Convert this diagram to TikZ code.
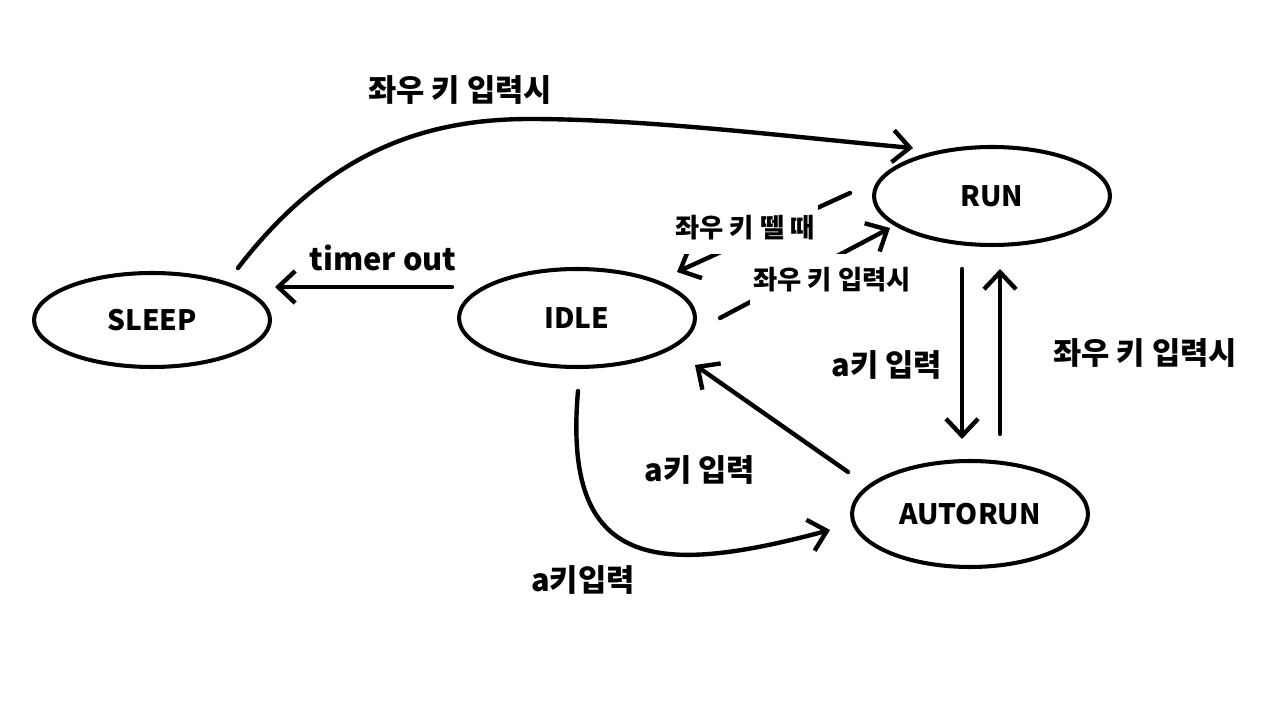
\documentclass[tikz,border=0pt]{standalone}
\usepackage{fontspec}
\setmainfont{Noto Sans CJK KR}
\usetikzlibrary{arrows.meta, positioning, shapes.geometric, calc}

\begin{document}
\begin{tikzpicture}[
    x=0.02cm, y=0.02cm,
    state/.style={ellipse, draw, line width=2.3pt, minimum width=4.72cm, minimum height=1.96cm,
        inner sep=0pt, font=\fontsize{16}{18}\selectfont\bfseries},
    arr/.style={line width=2.5pt, line cap=round,
        -{Straight Barb[length=3.4mm, width=6.4mm]}},
    lbl/.style={font=\fontsize{17.5}{20}\selectfont\bfseries},
    small/.style={font=\fontsize{15}{17}\selectfont\bfseries, fill=white,
        inner xsep=2pt, inner ysep=8pt},
]
    \useasboundingbox (0,0) rectangle (1280,720);

    % States
    \node[state, minimum height=1.88cm] (sleep) at (152,400) {SLEEP};
    \node[state] (idle) at (577,402) {IDLE};
    \node[state] (run) at (992,524) {RUN};
    \node[state, minimum height=2.12cm] (autorun) at (970,206) {AUTORUN};

    % SLEEP -> RUN, over the top
    \draw[arr] ($(sleep.east)+(-34,52)$) .. controls (330,572) and (430,601) .. (530,601)
        .. controls (650,601) and (800,582) .. ($(run.west)+(41,48)$);
    \node[lbl] (toplbl) at (460,630) {좌우 키 입력시};

    % IDLE -> SLEEP
    \draw[arr] ($(idle.west)+(-5,31)$) -- ($(sleep.east)+(3,33)$);
    \node[lbl] (timerlbl) at (383,462) {timer out};

    % RUN <-> IDLE, labels cut the lines
    \draw[arr] ($(run.west)+(-22,3)$) -- ($(idle.east)+(-20,46)$);
    \draw[arr] ($(idle.east)+(23,0)$) -- ($(run.west)+(18,-32)$);
    \node[small] (releaselbl) at (745,492) {좌우 키 뗄 때};
    \node[small] (presslbl) at (832,440) {좌우 키 입력시};

    % RUN <-> AUTORUN
    \draw[arr] ($(run.south)+(-30,-22)$) -- ($(autorun.north)+(-8,20)$);
    \draw[arr] ($(autorun.north)+(30,25)$) -- ($(run.south)+(8,-22)$);
    \node[lbl] (akeylbl) at (887,355) {a키 입력};
    \node[lbl] (backlbl) at (1145,367) {좌우 키 입력시};

    % AUTORUN -> IDLE
    \draw[arr] ($(autorun.west)+(-2,42)$) -- ($(idle.east)+(-2,-47)$);
    \node[lbl] (idlelbl) at (700,250) {a키 입력};

    % IDLE -> AUTORUN, round the bottom
    \draw[arr] ($(idle.south)+(1,-22)$) to[out=-95, in=195, looseness=1.6]
        ($(autorun.west)+(-20,-16)$);
    \node[lbl] (bottomlbl) at (583,140) {a키입력};
\end{tikzpicture}
\end{document}
